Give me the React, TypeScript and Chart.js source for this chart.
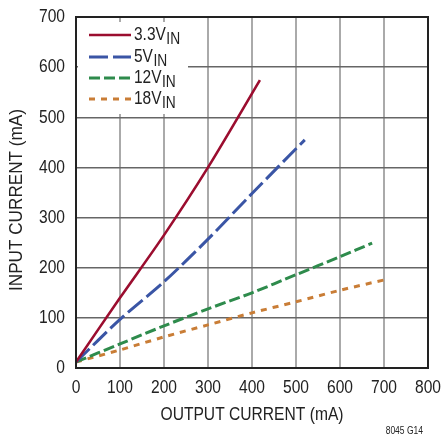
import React, { useEffect, useRef } from "react";
import { Chart, registerables } from "chart.js";
Chart.register(...registerables);

const seriesLabels = ["3.3V", "5V", "12V", "18V"];
const seriesColors = ["#9b0d2f", "#3a55a5", "#2e8b4c", "#c97d36"];
const out33 = [0, 100, 200, 300, 418];
const in33 = [12, 140, 265, 400, 574];
const out5 = [0, 100, 200, 300, 400, 520];
const in5 = [12, 97, 172, 257, 348, 455];
const out12 = [0, 100, 200, 300, 400, 500, 600, 673];
const in12 = [12, 48, 84, 118, 150, 186, 222, 249];
const out18 = [0, 100, 200, 300, 400, 500, 600, 707];
const in18 = [12, 36, 62, 86, 110, 132, 155, 177];
const xTickValues = [0, 100, 200, 300, 400, 500, 600, 700, 800];
const yTickValues = [0, 100, 200, 300, 400, 500, 600, 700];
const xTitle = "OUTPUT CURRENT (mA)";
const yTitle = "INPUT CURRENT (mA)";
const footnote = "8045 G14";

const FONT = '"Liberation Sans", Arial, sans-serif';
const dashes = [[], [19, 5], [11, 4], [6, 6]];
const widths = [2.6, 3, 3, 3];

const zip = (xs: number[], ys: number[]) => xs.map((x, i) => ({ x, y: ys[i] }));

function drawText(
  ctx: CanvasRenderingContext2D,
  text: string,
  x: number,
  y: number,
  size: number,
  align: CanvasTextAlign,
  sx: number,
  rot = 0,
  fitWidth = 0
) {
  ctx.save();
  ctx.font = `${size}px ${FONT}`;
  ctx.textAlign = align;
  ctx.textBaseline = "middle";
  let s = sx;
  if (fitWidth > 0) s = fitWidth / ctx.measureText(text).width;
  ctx.translate(x, y);
  if (rot) ctx.rotate(rot);
  ctx.scale(s, 1);
  ctx.fillText(text, 0, 0);
  ctx.restore();
}

const overlay = {
  id: "overlay",
  afterDatasetsDraw(chart: any) {
    const { ctx, chartArea } = chart;
    const xs = chart.scales.x;
    const ys = chart.scales.y;
    ctx.save();
    // legend box
    ctx.fillStyle = "#fff";
    ctx.fillRect(chartArea.left + 2, chartArea.top + 5, 110, 92);
    const rows = [35, 57, 78, 99];
    rows.forEach((y, i) => {
      ctx.beginPath();
      ctx.strokeStyle = seriesColors[i];
      ctx.lineWidth = widths[i];
      ctx.setLineDash(dashes[i]);
      ctx.moveTo(89, y);
      ctx.lineTo(131, y);
      ctx.stroke();
      ctx.setLineDash([]);
      ctx.fillStyle = "#222";
      ctx.font = `18px ${FONT}`;
      const w = ctx.measureText(seriesLabels[i]).width * 0.86;
      drawText(ctx, seriesLabels[i], 134, y, 18, "left", 0.86);
      drawText(ctx, "IN", 134 + w + 0.5, y + 4.5, 16, "left", 0.86);
    });
    // border
    ctx.strokeStyle = "#222";
    ctx.lineWidth = 2;
    ctx.strokeRect(chartArea.left, chartArea.top, chartArea.right - chartArea.left, chartArea.bottom - chartArea.top);
    // tick labels
    ctx.fillStyle = "#222";
    xTickValues.forEach((v) => {
      drawText(ctx, String(v), xs.getPixelForValue(v), 388, 19, "center", 0.82);
    });
    yTickValues.forEach((v) => {
      drawText(ctx, String(v), 65, ys.getPixelForValue(v), 19, "right", 0.82);
    });
    // axis titles
    drawText(ctx, xTitle, 252, 415, 19, "center", 0.82, 0, 183);
    drawText(ctx, yTitle, 17, 200, 19, "center", 0.82, -Math.PI / 2, 182);
    // footnote
    drawText(ctx, footnote, 423, 431, 10, "right", 0.85);
    ctx.restore();
  },
};

export default function App() {
  const ref = useRef<HTMLCanvasElement>(null);
  useEffect(() => {
    document.body.style.margin = "0";
    const datasets = [
      zip(out33, in33),
      zip(out5, in5),
      zip(out12, in12),
      zip(out18, in18),
    ].map((d, i) => ({
      label: seriesLabels[i],
      data: d,
      borderColor: seriesColors[i],
      borderWidth: widths[i],
      borderDash: dashes[i],
      pointRadius: 0,
      tension: 0.3,
      fill: false,
    }));
    const chart = new Chart(ref.current!, {
      type: "line",
      data: { datasets },
      options: {
        responsive: false,
        animation: false,
        layout: { padding: { left: 0, right: 20, top: 17, bottom: 0 } },
        plugins: { legend: { display: false }, tooltip: { enabled: false } },
        scales: {
          x: {
            type: "linear",
            min: 0,
            max: 800,
            afterBuildTicks: (s: any) => { s.ticks = xTickValues.map((v) => ({ value: v })); },
            afterFit: (s: any) => { s.height = 68; },
            ticks: { display: false },
            grid: { color: "#aaa", lineWidth: 2, drawTicks: false },
            border: { display: false },
            title: { display: false },
          },
          y: {
            type: "linear",
            min: 0,
            max: 700,
            afterBuildTicks: (s: any) => { s.ticks = yTickValues.map((v) => ({ value: v })); },
            afterFit: (s: any) => { s.width = 76; },
            ticks: { display: false },
            grid: { color: "#666", lineWidth: 1.5, drawTicks: false },
            border: { display: false },
            title: { display: false },
          },
        },
      },
      plugins: [overlay],
    });
    return () => chart.destroy();
  }, []);
  return (
    <canvas
      ref={ref}
      width={448}
      height={436}
      style={{ display: "block", position: "fixed", left: 0, top: 0 }}
    />
  );
}
